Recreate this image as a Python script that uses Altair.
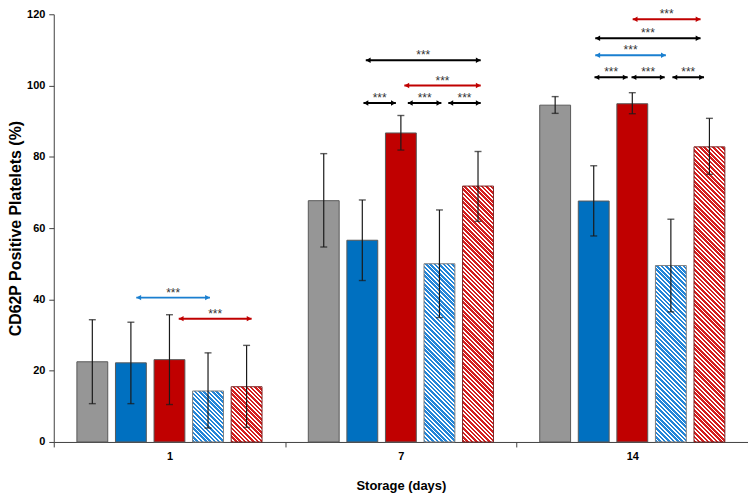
import altair as alt
import pandas as pd

# ---------------- data ----------------
groups = ["1", "7", "14"]
series = ["Gray", "Blue", "Red", "Blue hatched", "Red hatched"]
fill_colors = ["#969696", "#0070C0", "#C00000", "#FFFFFF", "#FFFFFF"]
stripe_colors = [None, None, None, "#2385D8", "#D41E1E"]
stroke_colors = ["#595959", "#595959", "#595959", "#7F7F7F", "#7A2020"]

mean_1 = [22.5, 22.2, 23.1, 14.3, 15.5]
mean_7 = [67.7, 56.6, 86.7, 50.0, 71.8]
mean_14 = [94.5, 67.6, 94.9, 49.5, 82.8]

low_1 = [10.75, 10.75, 10.5, 3.9, 4.1]
low_7 = [54.7, 45.3, 81.9, 34.9, 61.9]
low_14 = [92.2, 57.8, 92.1, 36.5, 75.1]

high_1 = [34.3, 33.6, 35.7, 25.0, 27.1]
high_7 = [80.9, 67.9, 91.6, 65.1, 81.5]
high_14 = [96.9, 77.5, 98.0, 62.5, 90.8]

# significance arrows: group, start / end (in bar slots, 0 = first bar), level, colour
arrow_group = ["1", "1", "7", "7", "7", "7", "7", "14", "14", "14", "14", "14", "14"]
arrow_start = [1.14, 2.24, 1.09, 2.09, 1.03, 2.18, 3.23, 2.01, 1.04, 1.04, 1.02, 1.98, 3.04]
arrow_end = [3.05, 4.13, 4.07, 4.07, 1.87, 3.05, 4.07, 3.77, 3.77, 2.87, 1.88, 2.84, 3.86]
arrow_level = [40.5, 34.6, 107.1, 100.0, 95.1, 95.1, 95.1, 118.6, 113.3, 108.5, 102.3, 102.3, 102.3]
arrow_color = ["#1A7FD0", "#C00000", "#000000", "#C00000", "#000000", "#000000", "#000000",
               "#C00000", "#000000", "#1A7FD0", "#000000", "#000000", "#000000"]
arrow_text = "***"

# ---------------- layout ----------------
W, H = 698, 430
Y_MAX = 120
SLOT = 1 / 6          # distance between bar centres, in group units
BAR = 0.8 * SLOT      # bar width, in group units
FONT = "Liberation Sans"

means = [mean_1, mean_7, mean_14]
lows = [low_1, low_7, low_14]
highs = [high_1, high_7, high_14]

rows = []
for gi, g in enumerate(groups):
    for si, s in enumerate(series):
        c = gi + (si - 2) * SLOT
        rows.append(dict(group=g, series=s, si=si, gi=gi, xc=c,
                         x0=c - BAR / 2, x1=c + BAR / 2,
                         mean=means[gi][si], low=lows[gi][si], high=highs[gi][si]))
bars = pd.DataFrame(rows)

arr = []
for g, a, b, lv, col in zip(arrow_group, arrow_start, arrow_end, arrow_level, arrow_color):
    gi = groups.index(g)
    xa = gi + (a - 2) * SLOT
    xb = gi + (b - 2) * SLOT
    arr.append(dict(group=g, xa=xa, xb=xb, xm=(xa + xb) / 2, level=lv, color=col, label=arrow_text))
arrows = pd.DataFrame(arr)

xscale = alt.Scale(domain=[-0.5, len(groups) - 0.5], nice=False, zero=False)
yscale = alt.Scale(domain=[0, Y_MAX], nice=False, zero=True)

label_expr = " : ".join(f"datum.value == {i} ? '{g}'" for i, g in enumerate(groups)) + " : ''"
x_axis = alt.Axis(
    values=[v / 2 for v in range(-1, 2 * len(groups))],
    labelExpr=label_expr,
    tickOpacity={"condition": {"test": "datum.value % 1 != 0", "value": 1}, "value": 0},
    title="Storage (days)",
    grid=False, tickSize=5, labelPadding=4, titlePadding=18,
    domainColor="#404040", tickColor="#404040",
    labelFont=FONT, labelFontSize=11, labelFontWeight="bold", labelColor="#000",
    titleFont=FONT, titleFontSize=13, titleFontWeight="bold", titleColor="#000",
)
y_axis = alt.Axis(
    values=list(range(0, Y_MAX + 1, 20)), title="CD62P Positive Platelets (%)",
    grid=False, tickSize=5, labelPadding=4, titlePadding=3,
    domainColor="#404040", tickColor="#404040",
    labelFont=FONT, labelFontSize=11, labelFontWeight="bold", labelColor="#000",
    titleFont=FONT, titleFontSize=16, titleFontWeight="bold", titleColor="#000",
)


def X(field):
    return alt.X(field, type="quantitative", scale=xscale, axis=x_axis, title="Storage (days)")


def Y(field):
    return alt.Y(field, type="quantitative", scale=yscale, axis=y_axis, title="CD62P Positive Platelets (%)")


base = alt.Chart(bars)

solid = base.transform_filter("datum.si < 3").mark_bar(strokeWidth=1).encode(
    x=X("x0:Q"), x2="x1:Q",
    y=Y("mean:Q"), y2=alt.datum(0),
    fill=alt.Color("series:N", scale=alt.Scale(domain=series[:3], range=fill_colors[:3]), legend=None),
    stroke=alt.Color("series:N", scale=alt.Scale(domain=series[:3], range=stroke_colors[:3]), legend=None),
)


def hatch_gradient(color, value, period=4.4, frac=0.58):
    w = BAR * W / len(groups)
    h = max(value / Y_MAX * H, 1.0)
    s = (w + h) / (w * w + h * h)
    n = max(int(round((w + h) / period)), 1)
    stops = []
    for k in range(n):
        a = k / n
        b = (k + frac) / n
        e = (k + 1) / n
        stops += [
            {"offset": round(a, 5), "color": color},
            {"offset": round(b, 5), "color": color},
            {"offset": round(b, 5), "color": "#FFFFFF"},
            {"offset": round(e, 5), "color": "#FFFFFF"},
        ]
    return {"gradient": "linear", "x1": 0, "y1": 1, "x2": round(s * w, 6), "y2": round(1 - s * h, 6),
            "stops": stops}


hatch_layers = []
for gi, g in enumerate(groups):
    for si in (3, 4):
        v = means[gi][si]
        hatch_layers.append(
            base.transform_filter(f"datum.gi == {gi} && datum.si == {si}")
            .mark_bar(fill=hatch_gradient(stripe_colors[si], v), stroke=stroke_colors[si], strokeWidth=1)
            .encode(x=X("x0:Q"), x2="x1:Q", y=Y("mean:Q"), y2=alt.datum(0))
        )

err_rule = base.mark_rule(color="#1A1A1A", strokeWidth=1.2).encode(
    x=X("xc:Q"), y=Y("low:Q"), y2="high:Q")
cap_hi = base.mark_tick(color="#1A1A1A", orient="horizontal", size=7, thickness=1.4).encode(
    x=X("xc:Q"), y=Y("high:Q"))
cap_lo = base.mark_tick(color="#1A1A1A", orient="horizontal", size=7, thickness=1.4).encode(
    x=X("xc:Q"), y=Y("low:Q"))

abase = alt.Chart(arrows)
arrow_line = abase.mark_rule(strokeWidth=2).encode(
    x=X("xa:Q"), x2="xb:Q", y=Y("level:Q"), color=alt.Color("color:N", scale=None))
head_l = abase.mark_point(shape="triangle-left", filled=True, size=30, opacity=1, xOffset=2.5).encode(
    x=X("xa:Q"), y=Y("level:Q"), color=alt.Color("color:N", scale=None))
head_r = abase.mark_point(shape="triangle-right", filled=True, size=30, opacity=1, xOffset=-2.5).encode(
    x=X("xb:Q"), y=Y("level:Q"), color=alt.Color("color:N", scale=None))
stars = abase.mark_text(font=FONT, fontSize=12, color="#333333", dy=-1, baseline="alphabetic",
                        align="center").encode(
    x=X("xm:Q"), y=Y("level:Q"), text="label:N")

chart = alt.layer(
    solid, *hatch_layers, err_rule, cap_hi, cap_lo, arrow_line, head_l, head_r, stars
).properties(
    width=W, height=H,
    autosize=alt.AutoSizeParams(type="none"),
    padding={"left": 46, "top": 5, "right": 0, "bottom": 50},
    background="white",
).configure_view(stroke=None)

chart.save("out.html", embed_options={"renderer": "svg", "actions": False})
